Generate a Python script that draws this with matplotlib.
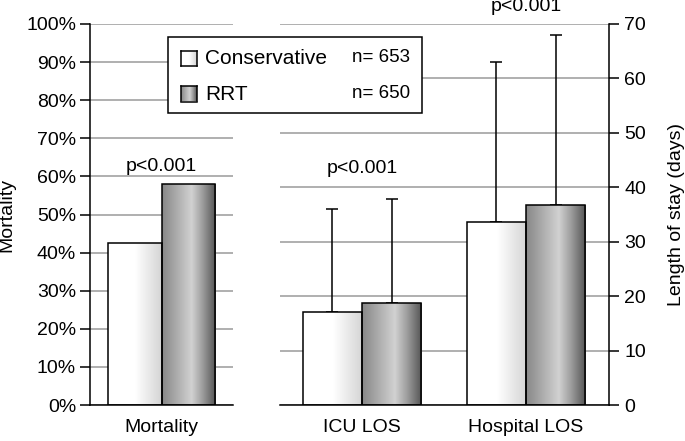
import numpy as np
import matplotlib.pyplot as plt
from matplotlib.patches import Rectangle

plt.rcParams['font.family'] = ['Liberation Sans', 'DejaVu Sans']

groups = ['Conservative', 'RRT']
group_n = ['n= 653', 'n= 650']

mort_label = ['Mortality']
mort_values = {'Conservative': [42.5], 'RRT': [58.0]}

los_labels = ['ICU LOS', 'Hospital LOS']
los_values = {'Conservative': [17.1, 33.6], 'RRT': [18.7, 36.7]}
los_err = {'Conservative': [18.9, 29.5], 'RRT': [19.2, 31.3]}

W, H = 685, 441


def px(x0, y0, x1, y1):
    # pixel box -> figure fraction rect
    return [x0 / W, 1 - y1 / H, (x1 - x0) / W, (y1 - y0) / H]


def gradient(kind, n=200):
    t = np.linspace(0, 1, n)
    if kind == 'Conservative':
        v = np.where(t < 0.5, 1.0, 1.0 - (t - 0.5) / 0.5 * 0.17)
    else:
        v = np.interp(t, [0, 0.55, 0.75, 1.0], [0.53, 0.82, 0.62, 0.33])
    return np.tile(v, (2, 1))


def fill_bars(ax, bars, kind):
    for b in bars:
        x, w, h = b.get_x(), b.get_width(), b.get_height()
        im = ax.imshow(gradient(kind), cmap='gray', vmin=0, vmax=1,
                       extent=[x, x + w, 0, h], aspect='auto', zorder=2)
        im.set_clip_path(b)


fig = plt.figure(figsize=(6.85, 4.41), dpi=100)

grid_c = '#9a9a9a'
tick_fs = 14

# left panel: mortality
ax1 = fig.add_axes(px(90, 24, 233, 405))
bw = 0.375
xs = np.arange(len(mort_label))
for i, g in enumerate(groups):
    off = (i - 0.5) * bw
    bars = ax1.bar(xs + off, mort_values[g], bw, facecolor='none',
                   edgecolor='black', linewidth=1.1, zorder=3)
    fill_bars(ax1, bars, g)
ax1.set_xlim(-0.5, 0.5)
ax1.set_ylim(0, 100)
ax1.set_yticks(np.arange(0, 101, 10))
ax1.set_yticklabels([f'{v}%' for v in range(0, 101, 10)], fontsize=tick_fs)
ax1.set_xticks(xs)
ax1.set_xticklabels(mort_label, fontsize=tick_fs)
ax1.tick_params(axis='x', length=0, pad=10)
ax1.tick_params(axis='y', length=7, width=1.1, direction='out', pad=3)
ax1.yaxis.grid(True, color=grid_c, linewidth=1.1, zorder=0)
ax1.set_axisbelow(True)
for s in ['top', 'right']:
    ax1.spines[s].set_visible(False)
for s in ['left', 'bottom']:
    ax1.spines[s].set_linewidth(1.1)
ax1.set_ylabel('Mortality', fontsize=tick_fs, labelpad=8)
ax1.text(0, 62.7, 'p<0.001', ha='center', va='center', fontsize=tick_fs)

# right panel: length of stay
ax2 = fig.add_axes(px(280, 24, 609, 405))
bw2 = 0.36
xs2 = np.arange(len(los_labels))
for i, g in enumerate(groups):
    off = (i - 0.5) * bw2
    bars = ax2.bar(xs2 + off, los_values[g], bw2, facecolor='none',
                   edgecolor='black', linewidth=1.1, zorder=3)
    fill_bars(ax2, bars, g)
    ax2.errorbar(xs2 + off, los_values[g],
                 yerr=[np.zeros(len(xs2)), los_err[g]], fmt='none',
                 ecolor='black', elinewidth=1.1, capsize=4.5, capthick=1.1,
                 zorder=1)
ax2.set_xlim(-0.5, 1.506)
ax2.set_ylim(0, 70)
ax2.yaxis.tick_right()
ax2.yaxis.set_label_position('right')
ax2.set_yticks(np.arange(0, 71, 10))
ax2.tick_params(axis='y', labelsize=tick_fs, length=7, width=1.1, pad=4)
ax2.set_xticks(xs2)
ax2.set_xticklabels(los_labels, fontsize=tick_fs)
ax2.tick_params(axis='x', length=0, pad=10)
ax2.yaxis.grid(True, color=grid_c, linewidth=1.1, zorder=0)
ax2.set_axisbelow(True)
for s in ['top', 'left']:
    ax2.spines[s].set_visible(False)
for s in ['right', 'bottom']:
    ax2.spines[s].set_linewidth(1.1)
ax2.set_ylabel('Length of stay (days)', fontsize=tick_fs, labelpad=16)
ax2.text(0, 43.4, 'p<0.001', ha='center', va='center', fontsize=tick_fs)
ax2.text(1, 73.3, 'p<0.001', ha='center', va='center', fontsize=tick_fs,
         clip_on=False)

# legend box
lx0, ly0, lx1, ly1 = 168, 37, 422, 113
fig.patches.append(Rectangle((lx0 / W, 1 - ly1 / H), (lx1 - lx0) / W,
                             (ly1 - ly0) / H, transform=fig.transFigure,
                             facecolor='white', edgecolor='black',
                             linewidth=1.1, zorder=5))
row_y = [58, 94]
for g, n, yc in zip(groups, group_n, row_y):
    sq = fig.add_axes(px(181, yc - 7.5, 197, yc + 7.5), zorder=6)
    sq.imshow(gradient(g), cmap='gray', vmin=0, vmax=1, aspect='auto')
    sq.set_xticks([])
    sq.set_yticks([])
    for s in sq.spines.values():
        s.set_linewidth(1.1)
    fig.text(205 / W, 1 - yc / H, g, ha='left', va='center',
             fontsize=15, zorder=6)
    fig.text(410 / W, 1 - yc / H, n, ha='right', va='center',
             fontsize=13.5, zorder=6)

fig.savefig('out.png', dpi=100)
